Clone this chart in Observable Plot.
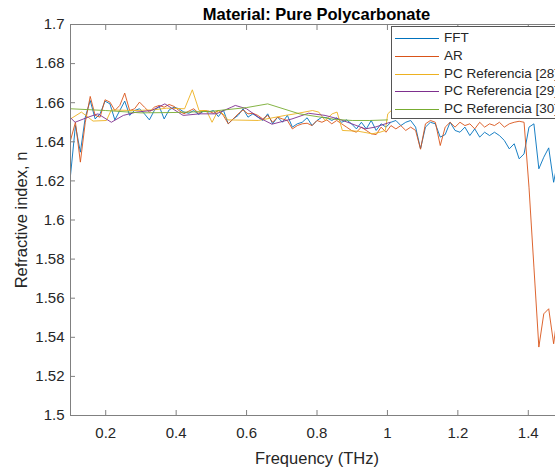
<!DOCTYPE html>
<html>
<head>
<meta charset="utf-8">
<script src="https://cdn.jsdelivr.net/npm/d3@7"></script>
<script src="https://cdn.jsdelivr.net/npm/@observablehq/plot@0.6"></script>
<style>
  html, body { margin: 0; padding: 0; background: #fff; overflow: hidden; }
  #wrap { position: relative; width: 555px; height: 468px; overflow: hidden; font-family: "Liberation Sans", Arial, sans-serif; }
  #title { position: absolute; top: 6px; left: 70px; width: 493px; text-align: center; font-weight: bold; font-size: 16.5px; line-height: 16.5px; color: #000; white-space: nowrap; }
  #legend { position: absolute; left: 391px; top: 26px; width: 200px; height: 93px; background: #fff; border: 1px solid #555; box-sizing: border-box; }
  .item { position: absolute; left: 0; height: 18px; line-height: 18px; font-size: 13.5px; color: #262626; white-space: nowrap; }
  .item .swatch { position: absolute; left: 3px; top: 9px; width: 44px; height: 0; border-top: 1px solid; }
  .item .lab { position: absolute; left: 52px; top: 0; }
</style>
</head>
<body>
<div id="wrap">
  <div id="chart"></div>
  <div id="title"></div>
  <div id="legend"></div>
</div>
<script>
// ---- Data ----
const titleText = "Material: Pure Polycarbonate";
const xLabel = "Frequency (THz)";
const yLabel = "Refractive index, n";

const seriesNames = ["FFT", "AR", "PC Referencia [28]", "PC Referencia [29]", "PC Referencia [30]"];
const seriesColors = ["#0072BD", "#D95319", "#EDB120", "#7E2F8E", "#77AC30"];

const xTicks = [0.2, 0.4, 0.6, 0.8, 1.0, 1.2, 1.4];
const xTickLabels = ["0.2", "0.4", "0.6", "0.8", "1", "1.2", "1.4"];
const yTicks = [1.5, 1.52, 1.54, 1.56, 1.58, 1.6, 1.62, 1.64, 1.66, 1.68, 1.7];
const yTickLabels = ["1.5", "1.52", "1.54", "1.56", "1.58", "1.6", "1.62", "1.64", "1.66", "1.68", "1.7"];

// Measured frequencies (THz) for FFT and AR
const freq = [0.1, 0.114, 0.128, 0.142, 0.156, 0.17, 0.184, 0.198, 0.212, 0.226,
  0.24, 0.254, 0.268, 0.282, 0.296, 0.31, 0.324, 0.338, 0.352, 0.366,
  0.38, 0.394, 0.408, 0.422, 0.436, 0.45, 0.464, 0.478, 0.492, 0.506,
  0.52, 0.534, 0.548, 0.562, 0.576, 0.59, 0.604, 0.618, 0.632, 0.646,
  0.66, 0.674, 0.688, 0.702, 0.716, 0.73, 0.744, 0.758, 0.772, 0.786,
  0.8, 0.814, 0.828, 0.842, 0.856, 0.87, 0.884, 0.898, 0.912, 0.926,
  0.94, 0.954, 0.968, 0.982, 0.996, 1.01, 1.024, 1.038, 1.052, 1.066,
  1.08, 1.094, 1.108, 1.122, 1.136, 1.15, 1.164, 1.178, 1.192, 1.206,
  1.22, 1.234, 1.248, 1.262, 1.276, 1.29, 1.304, 1.318, 1.332, 1.346,
  1.36, 1.374, 1.388, 1.402, 1.416, 1.43, 1.444, 1.458, 1.472, 1.486, 1.5];

const fft = [1.6228, 1.6483, 1.6347, 1.6526, 1.6611, 1.6517, 1.6543, 1.6608, 1.6594, 1.6512,
  1.6560, 1.6608, 1.6535, 1.6560, 1.6569, 1.6543, 1.6512, 1.6560, 1.6581, 1.6517,
  1.6563, 1.6577, 1.6569, 1.6552, 1.6546, 1.6560, 1.6540, 1.6557, 1.6552, 1.6560,
  1.6529, 1.6563, 1.6492, 1.6517, 1.6535, 1.6569, 1.6526, 1.6543, 1.6526, 1.6509,
  1.6543, 1.6492, 1.6526, 1.6500, 1.6535, 1.6475, 1.6492, 1.6500, 1.6523, 1.6483,
  1.6509, 1.6526, 1.6523, 1.6509, 1.6523, 1.6500, 1.6512, 1.6492, 1.6466, 1.6500,
  1.6466, 1.6509, 1.6458, 1.6492, 1.6475, 1.6500, 1.6509, 1.6483, 1.6500, 1.6509,
  1.6475, 1.6364, 1.6475, 1.6500, 1.6492, 1.6424, 1.6437, 1.6500, 1.6458, 1.6449,
  1.6475, 1.6432, 1.6466, 1.6424, 1.6449, 1.6432, 1.6449, 1.6432, 1.6407, 1.6364,
  1.6390, 1.6313, 1.6338, 1.6475, 1.6492, 1.6262, 1.6321, 1.6369, 1.6193, 1.6321, 1.6304];

const ar = [1.6407, 1.6500, 1.6296, 1.6500, 1.6632, 1.6535, 1.6526, 1.6615, 1.6603, 1.6560,
  1.6586, 1.6649, 1.6560, 1.6569, 1.6603, 1.6577, 1.6552, 1.6577, 1.6586, 1.6577,
  1.6591, 1.6581, 1.6560, 1.6543, 1.6557, 1.6569, 1.6546, 1.6560, 1.6557, 1.6546,
  1.6560, 1.6535, 1.6492, 1.6517, 1.6543, 1.6563, 1.6543, 1.6546, 1.6535, 1.6517,
  1.6535, 1.6500, 1.6526, 1.6517, 1.6509, 1.6466, 1.6483, 1.6492, 1.6495, 1.6483,
  1.6509, 1.6500, 1.6512, 1.6492, 1.6509, 1.6492, 1.6475, 1.6458, 1.6449, 1.6475,
  1.6458, 1.6441, 1.6437, 1.6475, 1.6449, 1.6483, 1.6466, 1.6483, 1.6458, 1.6475,
  1.6458, 1.6362, 1.6492, 1.6509, 1.6500, 1.6381, 1.6475, 1.6500, 1.6475, 1.6500,
  1.6483, 1.6492, 1.6466, 1.6500, 1.6475, 1.6492, 1.6483, 1.6500, 1.6475, 1.6492,
  1.6500, 1.6505, 1.6500, 1.6168, 1.5759, 1.5350, 1.5520, 1.5546, 1.5367, 1.5553, 1.5520];

// Reference curves
const pc28Freq = [0.1, 0.131, 0.164, 0.202, 0.216, 0.278, 0.335, 0.372, 0.424, 0.446,
  0.465, 0.486, 0.502, 0.519, 0.533, 0.547, 0.633, 0.71, 0.738, 0.787,
  0.805, 0.823, 0.843, 0.857, 0.872, 0.917, 0.957, 0.979, 0.994, 1.001, 1.011];
const pc28 = [1.6517, 1.6552, 1.6506, 1.6509, 1.6563, 1.6560, 1.6563, 1.6572, 1.6569, 1.6666,
  1.6560, 1.6560, 1.6500, 1.6560, 1.6543, 1.6512, 1.6509, 1.6535, 1.6543, 1.6560,
  1.6552, 1.6509, 1.6543, 1.6552, 1.6458, 1.6454, 1.6441, 1.6449, 1.6458, 1.6543, 1.6560];

const pc29Freq = [0.1, 0.113, 0.15, 0.178, 0.216, 0.25, 0.287, 0.33, 0.368, 0.42,
  0.467, 0.514, 0.557, 0.568, 0.6, 0.633, 0.672, 0.729, 0.776, 0.823,
  0.861, 0.899, 0.937, 0.965, 1.008];
const pc29 = [1.6523, 1.6500, 1.6526, 1.6543, 1.6500, 1.6535, 1.6552, 1.6560, 1.6594, 1.6535,
  1.6543, 1.6543, 1.6577, 1.6586, 1.6569, 1.6526, 1.6490, 1.6517, 1.6546, 1.6535,
  1.6517, 1.6492, 1.6466, 1.6475, 1.6500];

const pc30Freq = [0.1, 0.2, 0.3, 0.4, 0.5, 0.6, 0.66, 0.75, 0.8, 0.85, 0.9, 0.95, 1.0];
const pc30 = [1.6569, 1.6560, 1.6548, 1.6550, 1.6556, 1.6575, 1.6594, 1.6543, 1.6529, 1.6515, 1.6509, 1.6509, 1.6512];

// ---- Build ----
const rows = (xs, ys) => xs.map((f, i) => ({f, n: ys[i]}));
const seriesData = [rows(freq, fft), rows(freq, ar), rows(pc28Freq, pc28), rows(pc29Freq, pc29), rows(pc30Freq, pc30)];

const axisColor = "#808080";
const textColor = "#262626";
const tickFmt = d => xTickLabels[xTicks.indexOf(d)];
const yTickFmt = d => yTickLabels[yTicks.indexOf(d)];

const chart = Plot.plot({
  width: 555,
  height: 468,
  marginLeft: 70,
  marginRight: -8,
  marginTop: 24,
  marginBottom: 53,
  style: {fontFamily: "'Liberation Sans', Arial, sans-serif", fontSize: "15px", color: textColor, background: "white"},
  x: {domain: [0.1, 1.5]},
  y: {domain: [1.5, 1.7]},
  marks: [
    ...seriesData.map((d, i) => Plot.line(d, {x: "f", y: "n", stroke: seriesColors[i], strokeWidth: 0.9, clip: true})),
    Plot.frame({stroke: axisColor, strokeWidth: 1}),
    Plot.axisX(xTicks, {anchor: "bottom", tickSize: 0, tickPadding: 12, tickFormat: tickFmt, fill: textColor, fontSize: 15,
      label: xLabel, labelAnchor: "center", labelOffset: 48}),
    Plot.axisX(xTicks, {anchor: "bottom", tickSize: -5, stroke: axisColor, tickFormat: () => "", label: null}),
    Plot.axisX(xTicks, {anchor: "top", tickSize: -5, stroke: axisColor, tickFormat: () => "", label: null}),
    Plot.axisY(yTicks, {anchor: "left", tickSize: 0, tickPadding: 6, tickFormat: yTickFmt, fill: textColor, fontSize: 15,
      label: yLabel, labelAnchor: "center", labelOffset: 55}),
    Plot.axisY(yTicks, {anchor: "left", tickSize: -5, stroke: axisColor, tickFormat: () => "", label: null})
  ]
});
document.getElementById("chart").appendChild(chart);

// axis labels: larger font and no direction arrows
chart.querySelectorAll("text").forEach(t => {
  const s = t.textContent;
  if (s.includes(xLabel)) { t.textContent = xLabel; t.setAttribute("font-size", "16.5"); }
  else if (s.includes(yLabel)) { t.textContent = yLabel; t.setAttribute("font-size", "16.5"); }
});

document.getElementById("title").textContent = titleText;

const legend = document.getElementById("legend");
const centers = [11, 28.75, 46.5, 64.25, 82];
seriesNames.forEach((name, i) => {
  const item = document.createElement("div");
  item.className = "item";
  item.style.top = (centers[i] - 9) + "px";
  const sw = document.createElement("div");
  sw.className = "swatch";
  sw.style.borderTopColor = seriesColors[i];
  const lab = document.createElement("div");
  lab.className = "lab";
  lab.textContent = name;
  item.appendChild(sw);
  item.appendChild(lab);
  legend.appendChild(item);
});
</script>
</body>
</html>
